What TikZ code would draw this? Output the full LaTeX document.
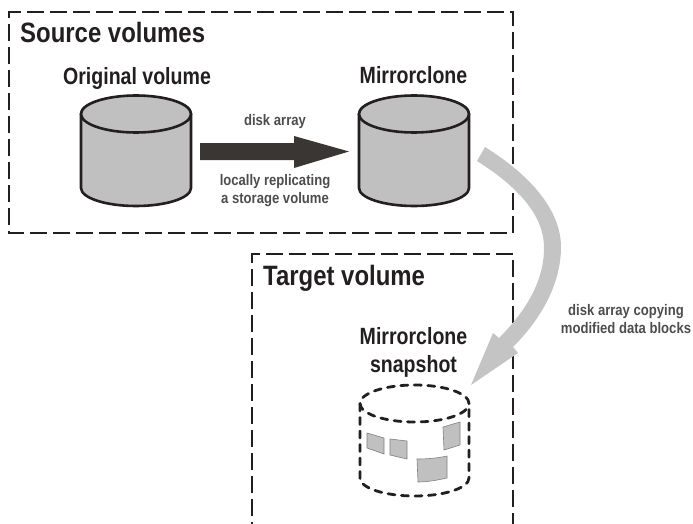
\documentclass[tikz,border=0pt]{standalone}
\usepackage{fontspec}
\setmainfont[FakeStretch=0.855]{Liberation Sans}
\newfontfamily\capfont[FakeStretch=0.832]{Liberation Sans}
\definecolor{inkdark}{HTML}{231F20}
\definecolor{fillgray}{HTML}{C0C0C0}
\definecolor{arrowgray}{HTML}{C4C4C4}
\definecolor{arrowdark}{HTML}{393633}
\definecolor{notegray}{HTML}{4D4D4D}
\tikzset{
  zone/.style={draw=inkdark,line width=2.6pt,dash pattern=on 17pt off 6pt},
  drum/.style={draw=inkdark,line width=2.6pt,fill=fillgray},
  ghost/.style={draw=inkdark,line width=2.8pt,dash pattern=on 7pt off 6.5pt,line cap=round},
  patch/.style={draw=gray,line width=0.6pt,fill=fillgray},
  heading/.style={font=\bfseries\fontsize{28}{30}\selectfont,text=inkdark,inner sep=0pt},
  caption/.style={font=\capfont\bfseries\fontsize{23.5}{28}\selectfont,text=inkdark,inner sep=0pt,align=center},
  note/.style={font=\bfseries\fontsize{15.3}{18}\selectfont,text=notegray,inner sep=0pt,align=center}
}
\begin{document}
\begin{tikzpicture}[x=1pt,y=-1pt]
\useasboundingbox (0,0) rectangle (693,524);
% zones
\draw[zone] (9,17) -- (9,12) -- (513,12) -- (513,233) -- (9,233) -- (9,17);
\draw[zone,dash phase=15pt] (252,524) -- (252,254) -- (513,254) -- (513,524);
% drums
\foreach \cx in {136,414}{
  \draw[drum] (\cx-55,114) -- (\cx-55,188) arc[start angle=180,end angle=360,x radius=55pt,y radius=18pt] -- (\cx+55,114) arc[start angle=0,end angle=180,x radius=55pt,y radius=18pt] -- cycle;
  \draw[drum] (\cx,114) ellipse[x radius=55pt,y radius=18.5pt];
}
% dark arrow
\fill[arrowdark] (200,143) -- (294,143) -- (294,136) -- (349,151.5) -- (294,168) -- (294,160) -- (200,160) -- cycle;
% snapshot drum
\draw[patch] (367,433) -- (384,438) -- (384,454) -- (367,448) -- cycle;
\draw[patch] (390,439) -- (407,441) -- (407,459) -- (390,455) -- cycle;
\draw[patch] (443,427) -- (460,422) -- (460,445) -- (444,450) -- cycle;
\draw[patch] (417,459) .. controls (428,459) and (438,458) .. (447,456) -- (447,478) .. controls (438,480) and (428,482) .. (418,482) -- cycle;
\draw[ghost] (360,404) -- (360,478) arc[start angle=180,end angle=360,x radius=54.5pt,y radius=18pt] -- (469,404);
\draw[ghost] (414.5,403.5) ellipse[x radius=54.5pt,y radius=18.5pt];
% gray arrow
\fill[arrowgray] (485,147) .. controls (530,175) and (561,210) .. (561,247)
  .. controls (561,285) and (540,320) .. (513,347) -- (518,353) -- (471,385) -- (493,333) -- (499,338)
  .. controls (525,312) and (544,282) .. (544,248)
  .. controls (544,215) and (518,187) .. (477,161) -- cycle;
% labels
\node[heading,anchor=west] (src) at (20,32) {Source volumes};
\node[heading,anchor=west] (tgt) at (263,278) {Target volume};
\node[caption] (orig) at (137,78) {Original volume};
\node[caption] (mirr) at (413.5,75) {Mirrorclone};
\node[caption] (snap) at (413.5,352) {Mirrorclone\\snapshot};
\node[note] (n1) at (275,122) {disk array};
\node[note] (n2) at (275,191) {locally replicating\\a storage volume};
\node[note] (n3) at (626,319) {disk array copying\\modified data blocks};
\end{tikzpicture}
\end{document}
